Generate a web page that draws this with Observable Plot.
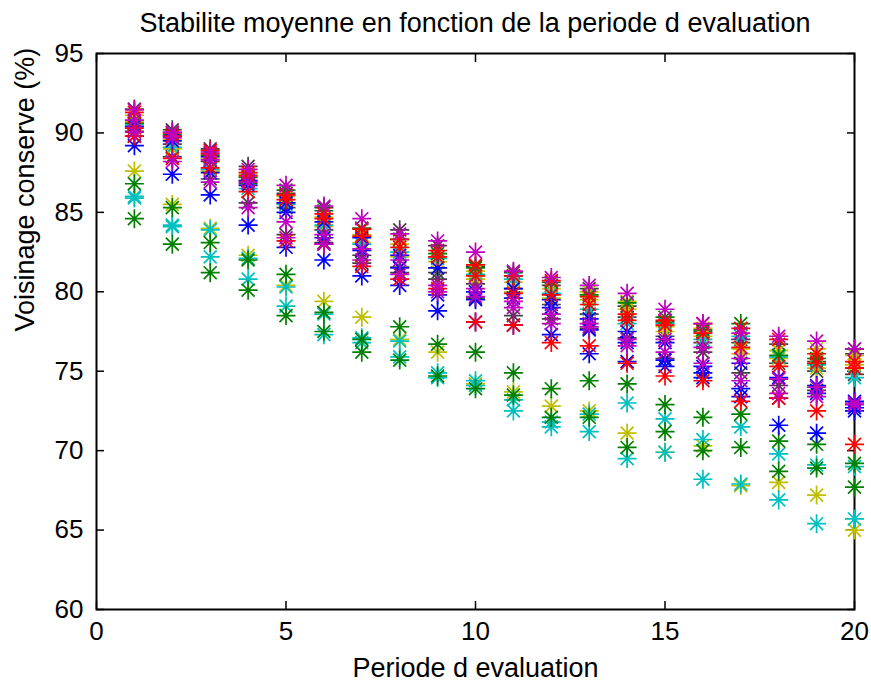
<!DOCTYPE html>
<html><head><meta charset="utf-8">
<script src="https://cdn.jsdelivr.net/npm/d3@7"></script>
<script src="https://cdn.jsdelivr.net/npm/@observablehq/plot@0.6"></script>
<style>
body{margin:0;background:#fff;}
#wrap{position:relative;width:871px;height:682px;overflow:hidden;background:#fff;}
#title{position:absolute;left:80px;width:790px;top:3px;height:40px;line-height:40px;text-align:center;font-family:"Liberation Sans",Arial,sans-serif;font-size:27px;color:#000;white-space:nowrap;}
#chart{position:absolute;left:0;top:40px;}
</style></head><body>
<div id="wrap"><div id="title"></div><div id="chart"></div></div>
<script>
const periods = [1,2,3,4,5,6,7,8,9,10,11,12,13,14,15,16,17,18,19,20];
const xTicks = [0,5,10,15,20];
const yTicks = [60,65,70,75,80,85,90,95];
const titleText = "Stabilite moyenne en fonction de la periode d evaluation";
const xLabel = "Periode d evaluation";
const yLabel = "Voisinage conserve (%)";

// series values (one per period)
const B1 = [90.4,89.8,88.5,87.0,85.6,84.4,83.4,82.3,81.5,80.0,80.2,79.5,78.3,77.5,76.8,75.3,75.5,74.6,74.1,73.1];
const G1 = [90.6,89.9,88.6,87.2,86.4,85.1,84.0,83.3,82.4,81.5,81.0,80.6,79.8,79.3,78.4,77.6,78.0,76.0,75.8,76.4];
const R1 = [91.3,90.0,88.9,87.5,86.1,84.9,83.95,83.3,82.6,81.7,81.0,80.7,79.7,78.6,78.2,78.0,77.7,77.0,76.1,75.6];
const C1 = [90.5,89.1,87.7,86.5,85.5,84.2,83.0,82.5,82.1,81.1,80.8,79.9,78.9,78.0,78.0,77.0,77.2,75.9,75.4,74.6];
const M1 = [91.45,90.05,88.8,87.7,86.7,85.4,84.6,83.65,83.2,82.5,81.3,80.9,80.4,79.9,78.9,78.0,77.4,77.2,76.9,76.4];
const Y1 = [91.1,89.6,88.4,87.4,86.0,84.7,83.6,83.0,81.9,81.3,80.6,80.2,80.0,79.4,77.8,77.7,76.4,76.3,76.4,76.0];
const K1 = [91.5,90.2,89.0,87.9,86.2,85.3,84.0,83.9,82.9,81.6,81.2,80.4,80.2,79.1,78.1,77.5,77.0,76.7,75.6,76.1];
const B2 = [89.8,89.5,87.5,86.7,85.0,83.4,82.6,81.5,79.8,79.5,79.6,79.0,77.6,76.8,75.7,74.9,73.9,73.3,73.6,72.7];
const G2 = [86.8,85.3,83.1,82.0,81.1,78.7,77.0,77.8,76.7,76.2,74.9,73.9,74.4,74.2,72.9,72.1,72.3,70.6,70.4,69.2];
const R2 = [90.3,89.8,88.7,87.3,85.8,84.6,83.5,82.8,82.2,81.0,79.9,79.8,79.2,78.2,77.9,77.4,76.5,75.3,75.5,75.2];
const C2 = [86.0,84.2,83.9,82.1,80.3,78.6,77.1,76.9,74.9,74.4,73.2,71.8,72.3,73.0,72.0,70.7,71.5,69.8,69.1,69.0];
const M2 = [90.8,89.7,88.3,86.9,84.4,83.6,82.7,82.0,80.4,80.2,79.4,78.6,78.0,77.0,77.0,76.5,75.8,74.5,74.0,73.0];
const Y2 = [90.7,89.0,87.6,87.0,85.6,84.1,83.1,82.2,81.5,80.8,80.0,79.6,79.5,78.9,77.5,77.2,76.1,75.8,75.2,75.4];
const K2 = [90.6,89.3,88.2,86.8,85.3,83.9,82.3,81.55,81.2,80.5,80.2,79.2,78.6,78.4,77.2,76.8,76.8,75.5,75.0,75.2];
const B3 = [89.2,87.4,86.1,84.2,82.8,82.0,81.0,80.4,78.8,78.1,77.9,77.3,76.1,75.6,75.3,74.6,73.4,71.6,71.1,72.5];
const G3 = [84.6,83.0,81.2,80.1,78.5,77.5,76.2,75.7,74.7,73.9,73.5,72.1,72.1,70.2,71.2,70.0,70.2,68.7,68.9,67.7];
const R3 = [89.8,88.4,87.8,86.3,83.2,83.0,81.6,80.8,80.2,78.1,77.9,76.8,76.6,75.5,74.7,74.4,73.1,73.3,72.5,70.4];
const C3 = [85.9,84.1,82.2,80.8,79.1,77.3,76.8,75.9,74.6,74.1,72.5,71.5,71.2,69.5,69.9,68.2,67.9,66.9,65.4,65.7];
const M3 = [90.05,88.2,86.9,85.3,83.4,83.0,82.0,81.1,80.0,79.7,79.0,78.0,77.8,76.6,76.2,75.5,74.4,73.6,73.4,72.9];
const Y3 = [87.6,85.5,84.0,82.3,80.4,79.4,78.4,77.0,76.2,74.2,73.7,72.8,72.5,71.1,69.9,70.3,67.8,68.0,67.2,65.0];
const K3 = [90.1,88.5,87.1,85.6,83.6,83.1,81.8,81.2,80.8,79.6,78.5,78.3,77.7,77.1,75.8,76.2,74.9,74.1,73.8,74.8];

// MATLAB colours
const blue = "#0000ff", green = "#008000", red = "#ff0000", cyan = "#00bfbf",
      magenta = "#bf00bf", yellow = "#bfbf00", gray = "#404040";

// drawing order (later ones on top)
const seriesList = [
  [K1, gray], [K2, gray], [K3, gray],
  [Y1, yellow], [Y2, yellow], [Y3, yellow],
  [C1, cyan], [C2, cyan], [C3, cyan],
  [G1, green], [G2, green], [G3, green],
  [B1, blue], [B2, blue], [B3, blue],
  [R1, red], [R2, red], [R3, red],
  [M1, magenta], [M2, magenta], [M3, magenta]
];

const rows = [];
seriesList.forEach(([vals, color], s) => {
  vals.forEach((v, i) => rows.push({period: periods[i], value: v, color, series: s}));
});

const asterisk = {
  draw(ctx, size) {
    const r = Math.sqrt(size / Math.PI);
    const d = r * 0.68;
    ctx.moveTo(-r, 0); ctx.lineTo(r, 0);
    ctx.moveTo(0, -r); ctx.lineTo(0, r);
    ctx.moveTo(-d, -d); ctx.lineTo(d, d);
    ctx.moveTo(-d, d); ctx.lineTo(d, -d);
  }
};

document.getElementById("title").textContent = titleText;

const chart = Plot.plot({
  width: 871,
  height: 642,
  marginTop: 13,
  marginBottom: 73,
  marginLeft: 96,
  marginRight: 17,
  style: {fontFamily: "'Liberation Sans', Arial, sans-serif", fontSize: "26px", background: "#fff", color: "#000", overflow: "visible"},
  x: {domain: [0, 20], ticks: xTicks},
  y: {domain: [60, 95], ticks: yTicks},
  marks: [
    Plot.frame({stroke: "#000", strokeWidth: 2}),
    Plot.axisX(xTicks, {anchor: "bottom", tickSize: 0, tickPadding: 12, fontSize: 26, label: null}),
    Plot.axisX(xTicks, {anchor: "bottom", tickSize: -8, strokeWidth: 1.5, tickFormat: () => "", label: null}),
    Plot.axisX(xTicks, {anchor: "top", tickSize: -8, strokeWidth: 1.5, tickFormat: () => "", label: null}),
    Plot.axisY(yTicks, {anchor: "left", tickSize: 0, tickPadding: 13, fontSize: 26, label: null}),
    Plot.axisY(yTicks, {anchor: "left", tickSize: -8, strokeWidth: 1.5, tickFormat: () => "", label: null}),
    Plot.axisY(yTicks, {anchor: "right", tickSize: -8, strokeWidth: 1.5, tickFormat: () => "", label: null}),
    Plot.text([xLabel], {frameAnchor: "bottom", dy: 59, fontSize: 27, lineAnchor: "middle"}),
    Plot.text([yLabel], {frameAnchor: "left", dx: -71, rotate: -90, fontSize: 27, lineAnchor: "middle"}),
    Plot.dot(rows, {x: "period", y: "value", stroke: "color", symbol: asterisk, r: 9.5, fill: "none", strokeWidth: 1.7})
  ]
});
document.getElementById("chart").appendChild(chart);
</script>
</body></html>
